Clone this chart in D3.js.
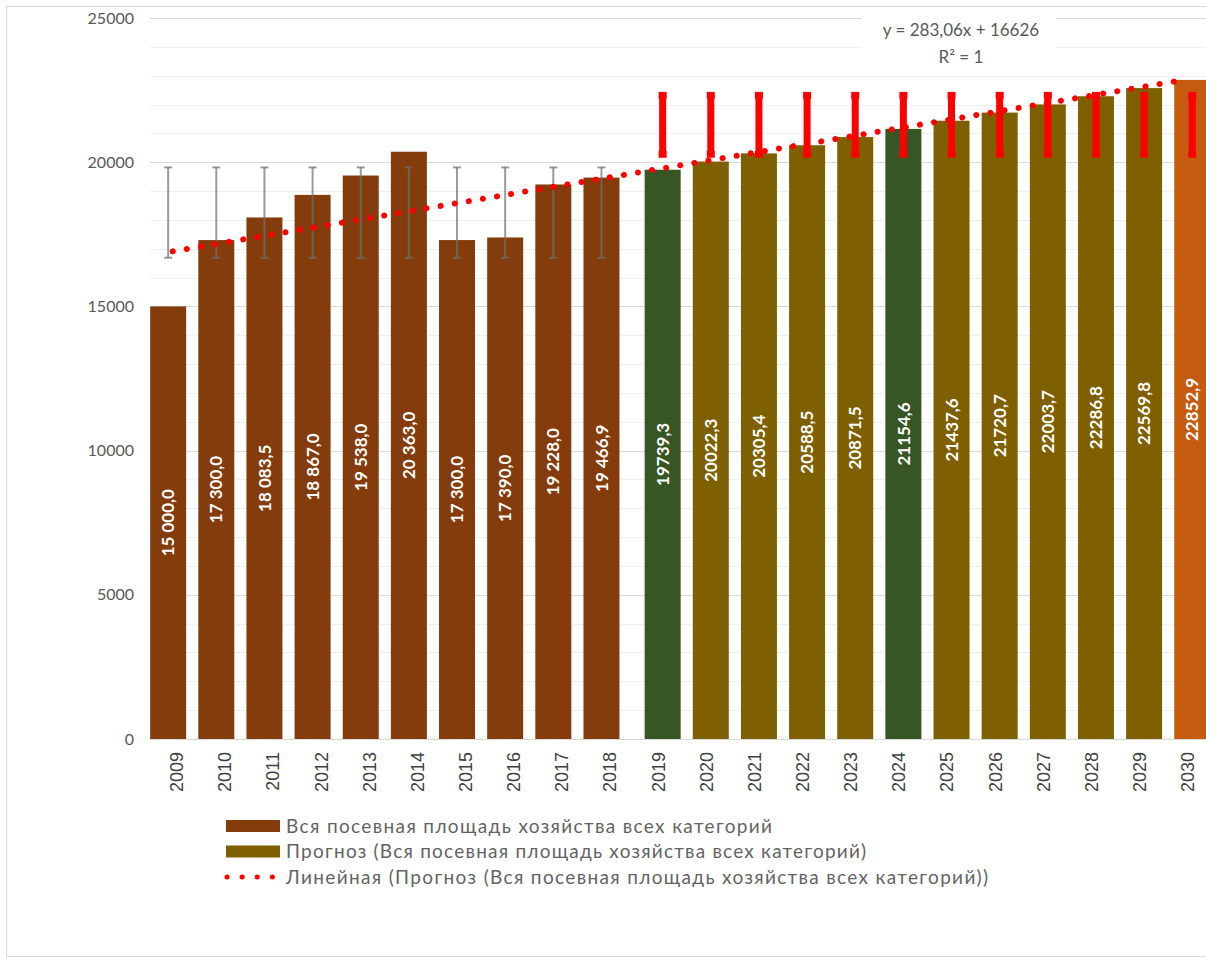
<!DOCTYPE html>
<html>
<head>
<meta charset="utf-8">
<script src="https://cdn.jsdelivr.net/npm/d3@7"></script>
<style>
  html, body { margin: 0; padding: 0; background: #ffffff; }
  svg { display: block; }
</style>
</head>
<body>
<svg id="chart" width="1206" height="960"></svg>
<script>
// ---------------- DATA ----------------
const years = ["2009","2010","2011","2012","2013","2014","2015","2016","2017","2018",
               "2019","2020","2021","2022","2023","2024","2025","2026","2027","2028","2029","2030"];
const actualYears = ["2009","2010","2011","2012","2013","2014","2015","2016","2017","2018"];
const actualValues = [15000, 17300, 18083.5, 18867, 19538, 20363, 17300, 17390, 19228, 19466.9];
const forecastYears = ["2019","2020","2021","2022","2023","2024","2025","2026","2027","2028","2029","2030"];
const forecastValues = [19739.3, 20022.3, 20305.4, 20588.5, 20871.5, 21154.6, 21437.6, 21720.7, 22003.7, 22286.8, 22569.8, 22852.9];
const greenYears = ["2019","2024"];
const orangeYears = ["2030"];
const yTickLabels = [0, 5000, 10000, 15000, 20000, 25000];
const trendSlope = 283.06;
const trendIntercept = 16626;
const trendEquation = "y = 283,06x + 16626";
const trendR2 = "R² = 1";
const legendLabels = [
  "Вся посевная площадь хозяйства всех категорий",
  "Прогноз (Вся посевная площадь хозяйства всех категорий)",
  "Линейная (Прогноз (Вся посевная площадь хозяйства всех категорий))"
];

// ---------------- STYLE ----------------
const C = {
  actual: "#843C0C",
  forecast: "#7F6000",
  green: "#375623",
  orange: "#C55A11",
  trend: "#FF0000",
  text: "#595959",
  legendText: "#636363",
  axisText: "#404040",
  err: "#6F6F6F"
};
const fontBody = "Lato, 'Open Sans', 'Noto Sans', sans-serif";
const fontAxis = "'Liberation Sans', Arial, sans-serif";
const legendWidths = [486, 580, 702];

const svg = d3.select("#chart");
const W = 1206, H = 960;

// border
svg.append("rect").attr("x", 6.5).attr("y", 6.5).attr("width", 1260).attr("height", 950)
  .attr("fill", "#fff").attr("stroke", "#D9D9D9").attr("stroke-width", 1);

const plot = { left: 152.6, right: 1211.8, top: 18, bottom: 739 };

const x = d3.scaleBand().domain(years).range([plot.left, plot.right]).padding(0);
const step = x.step();
const barW = 36;
const sub = d3.scalePoint().domain(["actual", "forecast"]).range([-0.177 * step, 0.094 * step]);
const y = d3.scaleLinear().domain([0, 25000]).range([plot.bottom, plot.top]);

// grid lines every 1000
const gridG = svg.append("g");
gridG.selectAll("line").data(d3.range(1000, 25001, 1000)).join("line")
  .attr("x1", 150).attr("x2", W)
  .attr("y1", d => Math.round(y(d)) + 0.5).attr("y2", d => Math.round(y(d)) + 0.5)
  .attr("stroke", d => d % 5000 === 0 ? "#D9D9D9" : "#EEEEEE").attr("stroke-width", 1);

// y axis labels
const yAxis = d3.axisLeft(y).tickValues(yTickLabels).tickSize(0).tickPadding(0).tickFormat(d3.format("d"));
const yg = svg.append("g").attr("transform", "translate(134,0)").call(yAxis);
yg.select(".domain").remove();
yg.selectAll("text").attr("font-family", fontBody).attr("font-size", 16).attr("fill", C.text);

// baseline
svg.append("line").attr("x1", 150).attr("x2", W).attr("y1", plot.bottom + 0.5).attr("y2", plot.bottom + 0.5)
  .attr("stroke", "#D9D9D9");

// x axis labels
const xAxis = d3.axisBottom(x).tickSize(0).tickPadding(0);
const xg = svg.append("g").attr("transform", `translate(0,${plot.bottom})`).call(xAxis);
xg.select(".domain").remove();
xg.selectAll("text")
  .attr("font-family", fontAxis).attr("font-size", 18).attr("fill", C.axisText)
  .attr("transform", "rotate(-90)")
  .attr("text-anchor", "end")
  .attr("x", -13).attr("y", 0).attr("dy", "0.36em");

// data rows
const actualRows = actualYears.map((yr, i) => ({ year: yr, value: actualValues[i], s: "actual" }));
const forecastRows = forecastYears.map((yr, i) => ({ year: yr, value: forecastValues[i], s: "forecast" }));
const allRows = actualRows.concat(forecastRows);

function barColor(d) {
  if (d.s === "actual") return C.actual;
  if (greenYears.includes(d.year)) return C.green;
  if (orangeYears.includes(d.year)) return C.orange;
  return C.forecast;
}
const cx = d => x(d.year) + x.bandwidth() / 2 + sub(d.s);

// bars
svg.append("g").selectAll("rect").data(allRows).join("rect")
  .attr("x", d => cx(d) - barW / 2)
  .attr("width", barW)
  .attr("y", d => y(d.value))
  .attr("height", d => y(0) - y(d.value))
  .attr("fill", barColor);

// error bars (standard deviation, as in the source spreadsheet)
function errBars(rows, values, color, sw, capW, opacity) {
  const m = d3.mean(values), sd = d3.deviation(values);
  const lo = m - sd, hi = m + sd;
  const g = svg.append("g").attr("stroke", color).attr("stroke-width", sw).attr("stroke-opacity", opacity);
  g.selectAll("line.v").data(rows).join("line").attr("class", "v")
    .attr("x1", cx).attr("x2", cx).attr("y1", y(hi)).attr("y2", y(lo));
  g.selectAll("line.t").data(rows).join("line").attr("class", "t")
    .attr("x1", d => cx(d) - capW / 2).attr("x2", d => cx(d) + capW / 2).attr("y1", y(hi)).attr("y2", y(hi));
  g.selectAll("line.b").data(rows).join("line").attr("class", "b")
    .attr("x1", d => cx(d) - capW / 2).attr("x2", d => cx(d) + capW / 2).attr("y1", y(lo)).attr("y2", y(lo));
}
errBars(actualRows, actualValues, C.err, 2, 8, 0.7);
errBars(forecastRows, forecastValues, C.trend, 7, 8, 1);

// trendline
const trendPts = years.map((yr, i) => [x(yr) + x.bandwidth() / 2 - 4, y(trendIntercept + trendSlope * (i + 1))]);
svg.append("path").attr("d", d3.line()(trendPts))
  .attr("fill", "none").attr("stroke", C.trend).attr("stroke-width", 6)
  .attr("stroke-linecap", "round").attr("stroke-dasharray", "0.1 14.2");

// value labels
const ru = d3.formatLocale({ decimal: ",", thousands: "\u00a0", grouping: [3], currency: ["", ""] });
const fmtActual = ru.format(",.1f");
const fmtForecast = ru.format(".1f");
svg.append("g").selectAll("text").data(allRows).join("text")
  .attr("transform", d => `translate(${cx(d)},${(y(d.value) + y(0)) / 2}) rotate(-90)`)
  .attr("text-anchor", "middle").attr("dy", "0.36em")
  .attr("font-family", fontBody).attr("font-weight", "bold").attr("font-size", 17)
  .attr("fill", "#FFFFFF")
  .text(d => d.s === "actual" ? fmtActual(d.value) : fmtForecast(d.value));

// equation box
svg.append("rect").attr("x", 862).attr("y", 12).attr("width", 195).attr("height", 60).attr("fill", "#fff");
svg.append("text").attr("x", 961).attr("y", 36).attr("text-anchor", "middle")
  .attr("font-family", fontBody).attr("font-size", 17).attr("fill", C.text).text(trendEquation);
svg.append("text").attr("x", 961).attr("y", 63).attr("text-anchor", "middle")
  .attr("font-family", fontBody).attr("font-size", 17).attr("fill", C.text).text(trendR2);

// legend
const lg = svg.append("g").attr("transform", "translate(226,826)");
const rowH = 25.5;
lg.append("rect").attr("x", 0).attr("y", -6).attr("width", 54).attr("height", 12).attr("fill", C.actual);
lg.append("rect").attr("x", 0).attr("y", rowH - 6).attr("width", 54).attr("height", 12).attr("fill", C.forecast);
lg.append("line").attr("x1", 1).attr("x2", 48).attr("y1", 2 * rowH).attr("y2", 2 * rowH)
  .attr("stroke", C.trend).attr("stroke-width", 5).attr("stroke-linecap", "round").attr("stroke-dasharray", "0.1 15");
lg.selectAll("text").data(legendLabels).join("text")
  .attr("x", 60).attr("y", (d, i) => i * rowH).attr("dy", "0.35em")
  .attr("font-family", fontBody).attr("font-size", 19).attr("fill", C.legendText)
  .attr("textLength", (d, i) => legendWidths[i]).attr("lengthAdjust", "spacing")
  .text(d => d);
</script>
</body>
</html>
